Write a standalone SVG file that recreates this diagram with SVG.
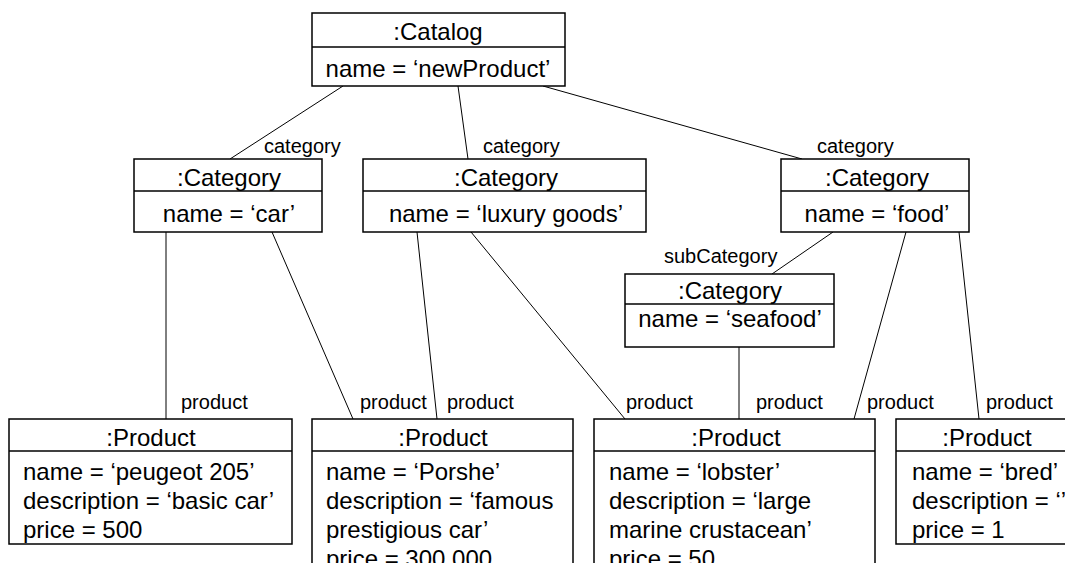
<svg xmlns="http://www.w3.org/2000/svg" width="1065" height="563" viewBox="0 0 1065 563">
<style>
.box{fill:#fff;stroke:#000;stroke-width:1.5}
.dv{stroke:#000;stroke-width:1.5}
.t{font-family:"Liberation Sans",Arial,sans-serif;font-size:24px;fill:#000}
.c{text-anchor:middle}
.lbl{font-family:"Liberation Sans",Arial,sans-serif;font-size:20px;fill:#000}
#connectors line{stroke:#000;stroke-width:1;fill:none}
</style>
<rect width="1065" height="563" fill="#fff"/>
<g id="connectors">
<line x1="343" y1="86" x2="230" y2="159"/>
<line x1="458" y1="86" x2="468" y2="159"/>
<line x1="543" y1="86" x2="802" y2="159"/>
<line x1="166" y1="232" x2="166" y2="419"/>
<line x1="272" y1="232" x2="353" y2="419"/>
<line x1="417" y1="232" x2="437" y2="419"/>
<line x1="471" y1="232" x2="625" y2="419"/>
<line x1="833" y1="232" x2="772" y2="274"/>
<line x1="739" y1="347" x2="739" y2="419"/>
<line x1="906" y1="232" x2="854" y2="419"/>
<line x1="959" y1="232" x2="979" y2="419"/>
</g>
<g id="labels">
<text class="lbl" x="264" y="153">category</text>
<text class="lbl" x="483" y="153">category</text>
<text class="lbl" x="817" y="153">category</text>
<text class="lbl" x="664" y="263">subCategory</text>
<text class="lbl" x="181" y="409">product</text>
<text class="lbl" x="360" y="409">product</text>
<text class="lbl" x="447" y="409">product</text>
<text class="lbl" x="626" y="409">product</text>
<text class="lbl" x="756" y="409">product</text>
<text class="lbl" x="867" y="409">product</text>
<text class="lbl" x="986" y="409">product</text>
</g>
<g id="catalog">
<rect class="box" x="312" y="13" width="253" height="73"/>
<line class="dv" x1="312" y1="47" x2="565" y2="47"/>
<text class="t c" x="438" y="40">:Catalog</text>
<text class="t c" x="438" y="77">name = ‘newProduct’</text>
</g>
<g id="cat_car">
<rect class="box" x="134" y="159" width="188" height="73"/>
<line class="dv" x1="134" y1="191" x2="322" y2="191"/>
<text class="t c" x="229" y="186">:Category</text>
<text class="t c" x="229" y="222">name = ‘car’</text>
</g>
<g id="cat_luxury">
<rect class="box" x="363" y="159" width="283" height="73"/>
<line class="dv" x1="363" y1="191" x2="646" y2="191"/>
<text class="t c" x="506" y="186">:Category</text>
<text class="t c" x="506" y="222">name = ‘luxury goods’</text>
</g>
<g id="cat_food">
<rect class="box" x="781" y="159" width="188" height="73"/>
<line class="dv" x1="781" y1="191" x2="969" y2="191"/>
<text class="t c" x="877" y="186">:Category</text>
<text class="t c" x="877" y="222">name = ‘food’</text>
</g>
<g id="cat_seafood">
<rect class="box" x="625" y="274" width="209" height="73"/>
<line class="dv" x1="625" y1="304" x2="834" y2="304"/>
<text class="t c" x="730" y="299">:Category</text>
<text class="t c" x="730" y="327">name = ‘seafood’</text>
</g>
<g id="prod_peugeot">
<rect class="box" x="9" y="419" width="283" height="125"/>
<line class="dv" x1="9" y1="451" x2="292" y2="451"/>
<text class="t c" x="151" y="446">:Product</text>
<text class="t" x="23" y="480">name = ‘peugeot 205’</text>
<text class="t" x="23" y="509">description = ‘basic car’</text>
<text class="t" x="23" y="538">price = 500</text>
</g>
<g id="prod_porshe">
<rect class="box" x="312" y="419" width="261" height="200"/>
<line class="dv" x1="312" y1="451" x2="573" y2="451"/>
<text class="t c" x="443" y="446">:Product</text>
<text class="t" x="326" y="480">name = ‘Porshe’</text>
<text class="t" x="326" y="509">description = ‘famous</text>
<text class="t" x="326" y="538">prestigious car’</text>
<text class="t" x="326" y="567">price = 300,000</text>
</g>
<g id="prod_lobster">
<rect class="box" x="594" y="419" width="281" height="200"/>
<line class="dv" x1="594" y1="451" x2="875" y2="451"/>
<text class="t c" x="736" y="446">:Product</text>
<text class="t" x="609" y="480">name = ‘lobster’</text>
<text class="t" x="609" y="509">description = ‘large</text>
<text class="t" x="609" y="538">marine crustacean’</text>
<text class="t" x="609" y="567">price = 50</text>
</g>
<g id="prod_bred">
<rect class="box" x="896" y="419" width="182" height="125"/>
<line class="dv" x1="896" y1="451" x2="1078" y2="451"/>
<text class="t c" x="987" y="446">:Product</text>
<text class="t" x="912" y="480">name = ‘bred’</text>
<text class="t" x="912" y="509">description = ‘’</text>
<text class="t" x="912" y="538">price = 1</text>
</g>
</svg>
